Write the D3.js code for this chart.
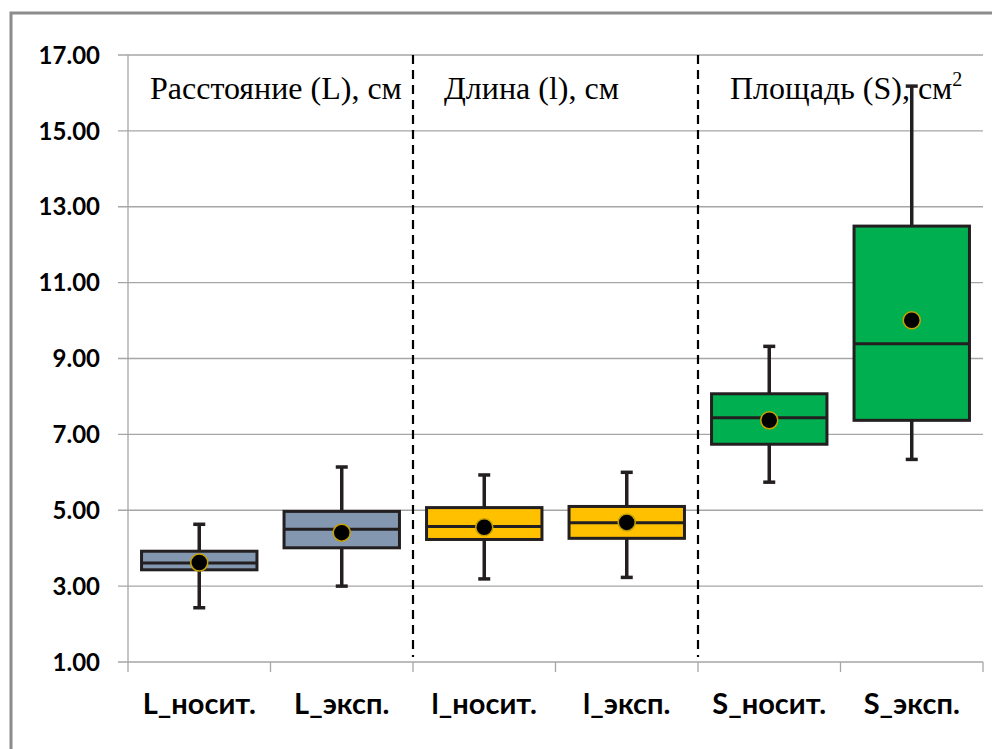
<!DOCTYPE html>
<html lang="ru">
<head>
<meta charset="UTF-8">
<title>Box plot</title>
<script src="https://d3js.org/d3.v7.min.js"></script>
<style>
    body {
        margin: 0;
        background: #fff;
    }
    #chart {
        width: 992px;
        height: 749px;
    }
    .y-label, .x-label {
        font-family: Lato, 'Open Sans', sans-serif;
        font-weight: bold;
        fill: #000;
    }
    .title {
        font-family: 'Liberation Serif', 'Times New Roman', serif;
        fill: #000;
    }
</style>
</head>
<body>
<div id="chart"></div>
<script>
// Данные
const categories = ["L_носит.", "L_эксп.", "l_носит.", "l_эксп.", "S_носит.", "S_эксп."];
const whiskerLow  = [2.43, 3.00, 3.19, 3.23, 5.74, 6.34];
const boxLow      = [3.43, 4.01, 4.23, 4.26, 6.74, 7.37];
const medians     = [3.61, 4.50, 4.57, 4.67, 7.44, 9.39];
const boxHigh     = [3.92, 4.97, 5.07, 5.10, 8.07, 12.49];
const whiskerHigh = [4.63, 6.14, 5.93, 6.00, 9.32, 16.18];
const means       = [3.62, 4.41, 4.55, 4.68, 7.37, 10.01];
const boxColors   = ["#8497b0", "#8497b0", "#ffc000", "#ffc000", "#00b050", "#00b050"];
const yTicks = [1, 3, 5, 7, 9, 11, 13, 15, 17];
const groupTitles = ["Расстояние (L), см", "Длина (l), см", "Площадь (S), см"];

const width = 992;
const height = 749;
const margin = { top: 55, right: 9, bottom: 87, left: 128 };

const svg = d3.select("#chart")
    .append("svg")
    .attr("width", width)
    .attr("height", height);

// рамка
svg.append("rect")
    .attr("x", 11)
    .attr("y", 13)
    .attr("width", width + 20)
    .attr("height", height + 20)
    .attr("fill", "none")
    .attr("stroke", "#8c8c8c")
    .attr("stroke-width", 3);

const x = d3.scaleBand()
    .domain(categories)
    .range([margin.left, width - margin.right])
    .paddingInner(0)
    .paddingOuter(0);

const y = d3.scaleLinear()
    .domain([1, 17])
    .range([height - margin.bottom, margin.top]);

// сетка
svg.append("g")
    .selectAll("line")
    .data(yTicks)
    .join("line")
    .attr("x1", margin.left - 10)
    .attr("x2", width - margin.right)
    .attr("y1", d => y(d))
    .attr("y2", d => y(d))
    .attr("stroke", "#a6a6a6")
    .attr("stroke-width", 1.3);

// ось Y
svg.append("line")
    .attr("x1", margin.left).attr("x2", margin.left)
    .attr("y1", y(17)).attr("y2", y(1))
    .attr("stroke", "#a6a6a6")
    .attr("stroke-width", 1.3);

svg.append("g")
    .selectAll("text")
    .data(yTicks)
    .join("text")
    .attr("class", "y-label")
    .attr("x", margin.left - 28)
    .attr("y", d => y(d))
    .attr("dy", "0.36em")
    .attr("text-anchor", "end")
    .attr("font-size", 24)
    .text(d => d3.format(".2f")(d));

// ось X с делениями
const xTickPos = categories.map(c => x(c)).concat([x(categories[5]) + x.bandwidth()]);
svg.append("g")
    .selectAll("line")
    .data(xTickPos)
    .join("line")
    .attr("x1", d => d).attr("x2", d => d)
    .attr("y1", y(1)).attr("y2", y(1) + 10)
    .attr("stroke", "#a6a6a6")
    .attr("stroke-width", 1.3);

svg.append("g")
    .selectAll("text")
    .data(categories)
    .join("text")
    .attr("class", "x-label")
    .attr("x", d => x(d) + x.bandwidth() / 2)
    .attr("y", y(1) + 52)
    .attr("text-anchor", "middle")
    .attr("font-size", 29)
    .text(d => d);

// пунктирные разделители
[categories[2], categories[4]].forEach(c => {
    svg.append("line")
        .attr("x1", x(c)).attr("x2", x(c))
        .attr("y1", y(17)).attr("y2", y(1) - 5)
        .attr("stroke", "#000")
        .attr("stroke-width", 2.2)
        .attr("stroke-dasharray", "9,6");
});

// заголовки групп
const titleX = [150, 444, 730];
groupTitles.forEach((t, i) => {
    const txt = svg.append("text")
        .attr("class", "title")
        .attr("x", titleX[i])
        .attr("y", 99)
        .attr("font-size", 32)
        .text(t);
    if (i === 2) {
        txt.append("tspan")
            .attr("dy", -13)
            .attr("font-size", 20)
            .text("2");
    }
});

// ящики с усами
const boxW = x.bandwidth() * 0.81;
const capW = 12;
const stroke = "#231f20";

const boxes = svg.append("g")
    .selectAll("g")
    .data(categories)
    .join("g")
    .attr("transform", d => `translate(${x(d) + x.bandwidth() / 2},0)`);

// усы
boxes.append("line")
    .attr("y1", (d, i) => y(whiskerHigh[i]))
    .attr("y2", (d, i) => y(boxHigh[i]))
    .attr("stroke", stroke).attr("stroke-width", 3.5);
boxes.append("line")
    .attr("y1", (d, i) => y(boxLow[i]))
    .attr("y2", (d, i) => y(whiskerLow[i]))
    .attr("stroke", stroke).attr("stroke-width", 3.5);
boxes.append("line")
    .attr("x1", -capW / 2).attr("x2", capW / 2)
    .attr("y1", (d, i) => y(whiskerHigh[i]))
    .attr("y2", (d, i) => y(whiskerHigh[i]))
    .attr("stroke", stroke).attr("stroke-width", 3.5);
boxes.append("line")
    .attr("x1", -capW / 2).attr("x2", capW / 2)
    .attr("y1", (d, i) => y(whiskerLow[i]))
    .attr("y2", (d, i) => y(whiskerLow[i]))
    .attr("stroke", stroke).attr("stroke-width", 3.5);

boxes.append("rect")
    .attr("x", -boxW / 2)
    .attr("width", boxW)
    .attr("y", (d, i) => y(boxHigh[i]))
    .attr("height", (d, i) => y(boxLow[i]) - y(boxHigh[i]))
    .attr("fill", (d, i) => boxColors[i])
    .attr("stroke", stroke)
    .attr("stroke-width", 3);

boxes.append("line")
    .attr("x1", -boxW / 2).attr("x2", boxW / 2)
    .attr("y1", (d, i) => y(medians[i]))
    .attr("y2", (d, i) => y(medians[i]))
    .attr("stroke", stroke)
    .attr("stroke-width", 3);

boxes.append("circle")
    .attr("cy", (d, i) => y(means[i]))
    .attr("r", 8.5)
    .attr("fill", "#000")
    .attr("stroke", "#c9a200")
    .attr("stroke-width", 1.5);
</script>
</body>
</html>
